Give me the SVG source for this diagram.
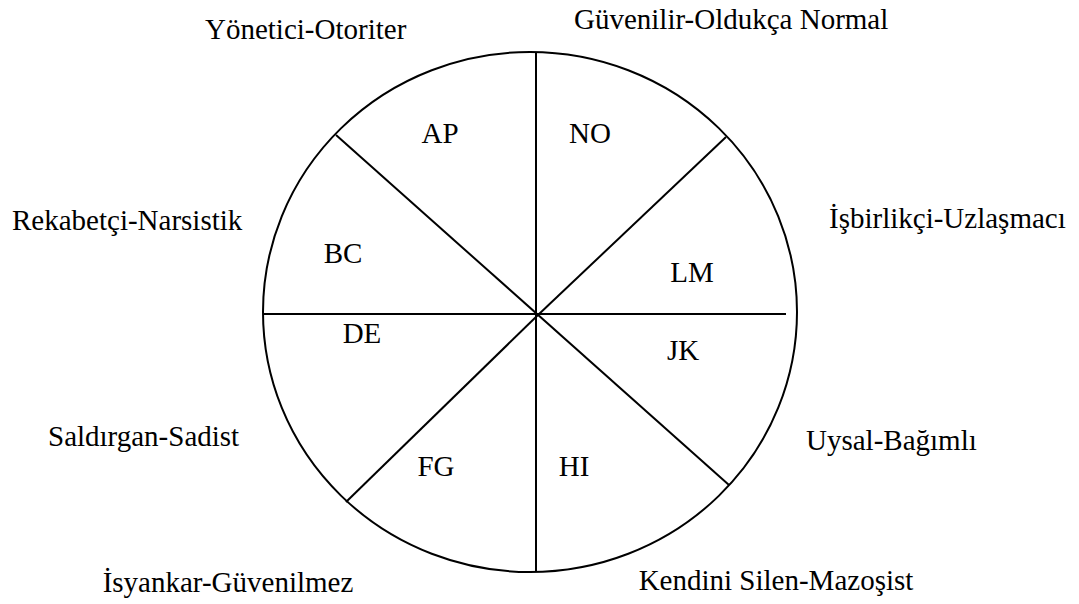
<svg xmlns="http://www.w3.org/2000/svg" width="1079" height="604" viewBox="0 0 1079 604">
<style>
.ln{stroke:#000;stroke-width:2;fill:none}
.t{font-family:"Liberation Serif","Times New Roman",serif;font-size:29px;fill:#000}
.c{text-anchor:middle}
</style>
<rect width="1079" height="604" fill="#fff"/>
<g id="wheel">
<ellipse class="ln" cx="530" cy="312" rx="267" ry="260"/>
</g>
<g id="connectors">
<line class="ln" x1="536" y1="52" x2="536" y2="572"/>
<line class="ln" x1="264" y1="314" x2="786" y2="314"/>
<line class="ln" x1="336" y1="135" x2="729" y2="485"/>
<line class="ln" x1="726" y1="137" x2="538" y2="315"/>
<line class="ln" x1="538" y1="315" x2="346" y2="502"/>
</g>
<g id="AP"><text class="t c" x="440" y="143">AP</text></g>
<g id="NO"><text class="t c" x="590" y="143">NO</text></g>
<g id="BC"><text class="t c" x="343" y="263">BC</text></g>
<g id="LM"><text class="t c" x="692" y="282">LM</text></g>
<g id="DE"><text class="t c" x="362" y="343">DE</text></g>
<g id="JK"><text class="t c" x="683" y="360">JK</text></g>
<g id="FG"><text class="t c" x="436" y="476">FG</text></g>
<g id="HI"><text class="t c" x="574" y="476">HI</text></g>
<g id="label-yonetici"><text class="t" x="205" y="39">Yönetici-Otoriter</text></g>
<g id="label-guvenilir"><text class="t" x="574" y="29">Güvenilir-Oldukça Normal</text></g>
<g id="label-rekabetci"><text class="t" x="12" y="230">Rekabetçi-Narsistik</text></g>
<g id="label-isbirlikci"><text class="t" x="829" y="228">İşbirlikçi-Uzlaşmacı</text></g>
<g id="label-saldirgan"><text class="t" x="48" y="446">Saldırgan-Sadist</text></g>
<g id="label-uysal"><text class="t" x="806" y="450">Uysal-Bağımlı</text></g>
<g id="label-isyankar"><text class="t c" x="228" y="592">İsyankar-Güvenilmez</text></g>
<g id="label-kendini"><text class="t c" x="776" y="590">Kendini Silen-Mazoşist</text></g>
</svg>
